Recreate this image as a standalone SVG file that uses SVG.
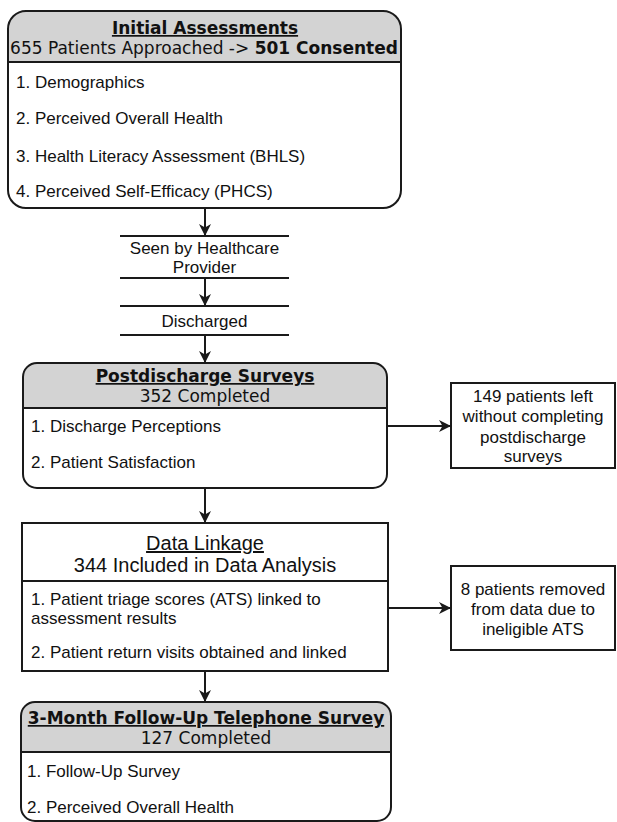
<svg xmlns="http://www.w3.org/2000/svg" width="617" height="822" viewBox="0 0 617 822">
<style>
.box{fill:none;stroke:#1a1a1a;stroke-width:2}
.hdr{fill:#d3d3d3;stroke:none}
.sep{stroke:#1a1a1a;stroke-width:2}
.ttl{font-family:"DejaVu Sans",Verdana,sans-serif;font-size:17px;font-weight:bold;text-anchor:middle;text-decoration:underline;fill:#111}
.sub{font-family:"DejaVu Sans",Verdana,sans-serif;font-size:17px;text-anchor:middle;fill:#111}
.txt{font-family:"Liberation Sans",Arial,sans-serif;font-size:17px;fill:#111}
.ctr{font-family:"Liberation Sans",Arial,sans-serif;font-size:17px;fill:#111;text-anchor:middle}
.big{font-family:"Liberation Sans",Arial,sans-serif;font-size:20px;fill:#111;text-anchor:middle}
.con{stroke:#1a1a1a;stroke-width:2;fill:none;marker-end:url(#ah)}
</style>
<defs>
<marker id="ah" markerUnits="userSpaceOnUse" markerWidth="14" markerHeight="14" viewBox="0 0 14 14" refX="12" refY="7" orient="auto">
<path d="M0,1 L12,7 L0,13 L3.5,7 Z" fill="#1a1a1a"/>
</marker>
</defs>
<rect width="617" height="822" fill="#fff"/>

<g id="initial">
<path class="hdr" d="M8,62 V29 A18,18 0 0 1 26,11 H383 A18,18 0 0 1 401,29 V62 Z"/>
<line class="sep" x1="8" y1="62" x2="401" y2="62"/>
<rect class="box" x="8" y="11" width="393" height="197" rx="18"/>
<text class="ttl" x="205" y="34">Initial Assessments</text>
<text class="sub" x="204" y="54">655 Patients Approached -&gt; <tspan font-weight="bold">501 Consented</tspan></text>
<text class="txt" x="16" y="88">1. Demographics</text>
<text class="txt" x="16" y="124">2. Perceived Overall Health</text>
<text class="txt" x="16" y="162">3. Health Literacy Assessment (BHLS)</text>
<text class="txt" x="16" y="197">4. Perceived Self-Efficacy (PHCS)</text>
</g>

<g id="seen">
<line class="sep" x1="120" y1="236" x2="289" y2="236"/>
<line class="sep" x1="120" y1="278" x2="289" y2="278"/>
<text class="ctr" x="204.5" y="254">Seen by Healthcare</text>
<text class="ctr" x="204.5" y="273">Provider</text>
</g>

<g id="discharged">
<line class="sep" x1="120" y1="306" x2="289" y2="306"/>
<line class="sep" x1="120" y1="335" x2="289" y2="335"/>
<text class="ctr" x="204.5" y="327">Discharged</text>
</g>

<g id="postdischarge">
<path class="hdr" d="M23,408 V377 A14,14 0 0 1 37,363 H373 A14,14 0 0 1 387,377 V408 Z"/>
<line class="sep" x1="23" y1="408" x2="387" y2="408"/>
<rect class="box" x="23" y="363" width="364" height="125" rx="14"/>
<text class="ttl" x="205" y="382">Postdischarge Surveys</text>
<text class="sub" x="205" y="402">352 Completed</text>
<text class="txt" x="31" y="432">1. Discharge Perceptions</text>
<text class="txt" x="31" y="468">2. Patient Satisfaction</text>
</g>

<g id="left149">
<rect class="box" x="451" y="383" width="164" height="85"/>
<text class="ctr" x="533" y="402">149 patients left</text>
<text class="ctr" x="533" y="422">without completing</text>
<text class="ctr" x="533" y="443">postdischarge</text>
<text class="ctr" x="533" y="462">surveys</text>
</g>

<g id="linkage">
<rect class="box" x="22" y="523" width="366" height="148"/>
<line class="sep" x1="22" y1="581" x2="388" y2="581"/>
<text class="big" x="205" y="550" text-decoration="underline">Data Linkage</text>
<text class="big" x="205" y="572">344 Included in Data Analysis</text>
<text class="txt" x="31" y="605">1. Patient triage scores (ATS) linked to</text>
<text class="txt" x="31" y="624">assessment results</text>
<text class="txt" x="31" y="658">2. Patient return visits obtained and linked</text>
</g>

<g id="removed8">
<rect class="box" x="451" y="566" width="164" height="84"/>
<text class="ctr" x="533" y="595">8 patients removed</text>
<text class="ctr" x="533" y="615">from data due to</text>
<text class="ctr" x="533" y="635">ineligible ATS</text>
</g>

<g id="followup">
<path class="hdr" d="M21,752 V716 A14,14 0 0 1 35,702 H377 A14,14 0 0 1 391,716 V752 Z"/>
<line class="sep" x1="21" y1="752" x2="391" y2="752"/>
<rect class="box" x="21" y="702" width="370" height="119" rx="14"/>
<text class="ttl" x="206" y="724">3-Month Follow-Up Telephone Survey</text>
<text class="sub" x="206" y="744">127 Completed</text>
<text class="txt" x="27" y="777">1. Follow-Up Survey</text>
<text class="txt" x="27" y="813">2. Perceived Overall Health</text>
</g>

<g id="connectors">
<line class="con" x1="205" y1="208" x2="205" y2="236"/>
<line class="con" x1="205" y1="278" x2="205" y2="306"/>
<line class="con" x1="205" y1="335" x2="205" y2="363"/>
<line class="con" x1="205" y1="488" x2="205" y2="523"/>
<line class="con" x1="205" y1="671" x2="205" y2="702"/>
<line class="con" x1="387" y1="426" x2="451" y2="426"/>
<line class="con" x1="388" y1="608" x2="451" y2="608"/>
</g>
</svg>
